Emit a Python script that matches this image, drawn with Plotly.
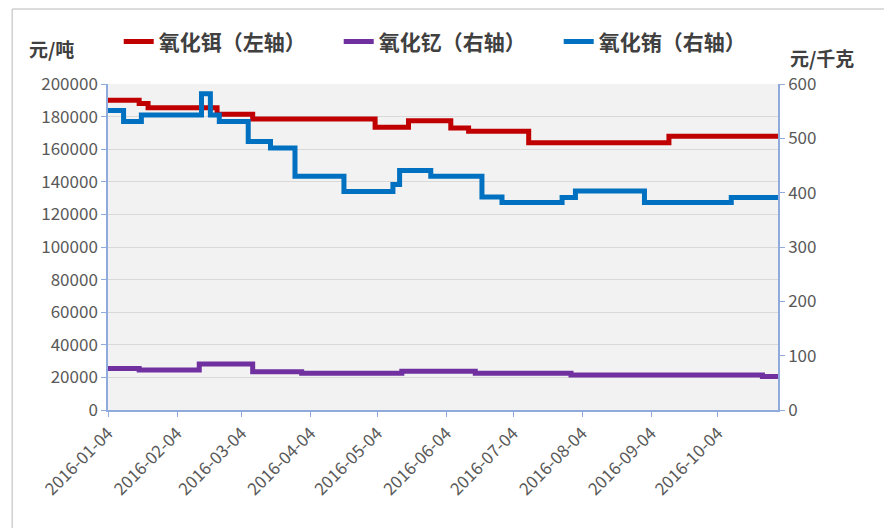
import plotly.graph_objects as go

# 氧化铒（左轴）, 元/吨 — change points (step series)
er_dates = ["2016-01-04", "2016-01-18", "2016-01-22", "2016-02-22", "2016-03-09",
            "2016-05-03", "2016-05-18", "2016-06-06", "2016-06-14", "2016-07-11",
            "2016-09-12", "2016-10-31"]
er_values = [190000, 188000, 185500, 181500, 178500,
             173500, 177500, 173000, 171000, 164000,
             168000, 168000]

# 氧化钇（右轴）, 元/千克
y_dates = ["2016-01-04", "2016-01-18", "2016-02-14", "2016-03-09", "2016-03-31",
           "2016-05-15", "2016-06-17", "2016-07-30", "2016-10-24", "2016-10-31"]
y_values = [76.5, 73.6, 84.5, 70.5, 67.5, 71.5, 67.5, 64.5, 61.5, 61.5]

# 氧化铕（右轴）, 元/千克
eu_dates = ["2016-01-04", "2016-01-11", "2016-01-19", "2016-02-15", "2016-02-19",
            "2016-02-23", "2016-03-07", "2016-03-17", "2016-03-28", "2016-04-19",
            "2016-05-11", "2016-05-14", "2016-05-28", "2016-06-20", "2016-06-29",
            "2016-07-26", "2016-08-01", "2016-09-01", "2016-10-10", "2016-10-31"]
eu_values = [551, 531, 543, 582, 543,
             531, 494, 482, 430, 402,
             415, 441, 430, 392, 382,
             391, 403, 382, 391, 391]

tick_dates = ["2016-01-04", "2016-02-04", "2016-03-04", "2016-04-04", "2016-05-04",
              "2016-06-04", "2016-07-04", "2016-08-04", "2016-09-04", "2016-10-04"]
tick_labels = tick_dates

FONT = "Noto Sans CJK SC"
AXIS_COLOR = "#8FAADC"
LW = 5

fig = go.Figure()
fig.add_trace(go.Scatter(x=er_dates, y=er_values, mode="lines", line_shape="hv",
                         name="氧化铒（左轴）", line=dict(color="#C00000", width=LW)))
fig.add_trace(go.Scatter(x=y_dates, y=y_values, mode="lines", line_shape="hv",
                         name="氧化钇（右轴）", yaxis="y2", line=dict(color="#7030A0", width=LW)))
fig.add_trace(go.Scatter(x=eu_dates, y=eu_values, mode="lines", line_shape="hv",
                         name="氧化铕（右轴）", yaxis="y2", line=dict(color="#0070C0", width=LW)))

fig.update_layout(
    width=892, height=528,
    margin=dict(l=100, r=122, t=76, b=126, autoexpand=False),
    paper_bgcolor="white", plot_bgcolor="#F2F2F2",
    font=dict(family=FONT, color="#595959", size=16),
    showlegend=True,
    legend=dict(orientation="h", x=0.016, y=1.129, xanchor="left", yanchor="middle",
                font=dict(family=FONT, size=21, color="#404040", weight="bold"),
                entrywidth=175, entrywidthmode="pixels", bgcolor="rgba(0,0,0,0)",
                tracegroupgap=0),
    xaxis=dict(type="date", range=["2016-01-04", "2016-10-31"],
               tickvals=tick_dates, ticktext=tick_labels, tickangle=-45,
               showgrid=False, showline=True, linecolor=AXIS_COLOR, linewidth=1.5,
               ticks="outside", ticklen=5, tickcolor=AXIS_COLOR,
               tickfont=dict(size=17, color="#595959"), zeroline=False),
    yaxis=dict(range=[0, 200000], dtick=20000, tickformat="d",
               showgrid=True, gridcolor="#D9D9D9", gridwidth=1,
               showline=True, linecolor=AXIS_COLOR, linewidth=1.5,
               ticks="outside", ticklen=5, tickcolor=AXIS_COLOR,
               tickfont=dict(size=17, color="#595959"), zeroline=False),
    yaxis2=dict(range=[0, 600], dtick=100, overlaying="y", side="right",
                showgrid=False, showline=True, linecolor=AXIS_COLOR, linewidth=1.5,
                ticks="outside", ticklen=5, tickcolor=AXIS_COLOR,
                tickfont=dict(size=17, color="#595959"), zeroline=False),
    annotations=[
        dict(text="<b>元/吨</b>", xref="paper", yref="paper", x=-0.0836, y=1.110,
             xanchor="center", yanchor="middle",
             showarrow=False, font=dict(family=FONT, size=19, color="#404040")),
        dict(text="<b>元/千克</b>", xref="paper", yref="paper", x=1.0657, y=1.0798,
             xanchor="center", yanchor="middle",
             showarrow=False, font=dict(family=FONT, size=19, color="#404040")),
    ],
    shapes=[
        dict(type="line", xref="paper", yref="paper", x0=-0.143, x1=-0.143, y0=-0.40, y1=1.230,
             line=dict(color="#D0D0D0", width=1.5)),
        dict(type="line", xref="paper", yref="paper", x0=-0.143, x1=1.20, y0=1.230, y1=1.230,
             line=dict(color="#D0D0D0", width=1.5)),
    ],
)

fig.write_html("out.html")
